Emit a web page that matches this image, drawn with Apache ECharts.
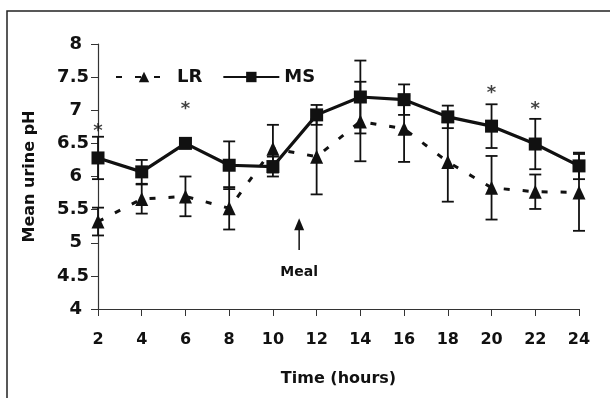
<!DOCTYPE html>
<html>
<head>
<meta charset="utf-8">
<script src="https://cdn.jsdelivr.net/npm/echarts@6/dist/echarts.min.js"></script>
<style>
  html, body { margin: 0; padding: 0; background: #fff; }
  #chart { width: 610px; height: 398px; }
</style>
</head>
<body>
<div id="chart"></div>
<script>
  // time points (hours)
  const hours = [2, 4, 6, 8, 10, 12, 14, 16, 18, 20, 22, 24];
  // MS group: mean urine pH and error
  const msMean = [6.28, 6.07, 6.5, 6.17, 6.15, 6.93, 7.2, 7.16, 6.9, 6.76, 6.49, 6.16];
  const msErr  = [0.32, 0.18, 0.06, 0.36, 0.15, 0.15, 0.55, 0.23, 0.17, 0.33, 0.38, 0.2];
  // LR group
  const lrMean = [5.32, 5.66, 5.7, 5.52, 6.42, 6.3, 6.83, 6.72, 6.22, 5.83, 5.77, 5.76];
  const lrErr  = [0.21, 0.22, 0.3, 0.32, 0.36, 0.57, 0.6, 0.5, 0.6, 0.48, 0.26, 0.58];
  // significance markers
  const sigHours = [2, 6, 20, 22];
  const sigY = [6.74, 7.07, 7.32, 7.08];
  // meal arrow (hour, bottom, tip)
  const mealHour = 11.2;
  const mealArrow = [4.89, 5.37];
  const mealLabelY = 4.55;
  const yTicks = [4, 4.5, 5, 5.5, 6, 6.5, 7, 7.5, 8];

  const font = 'DejaVu Sans, Arial, sans-serif';
  const ink = '#111';

  function errData(mean, err) {
    return hours.map((h, i) => [h, mean[i] - err[i], mean[i] + err[i]]);
  }

  function renderErr(params, api) {
    const x = api.value(0);
    const lo = api.coord([x, api.value(1)]);
    const hi = api.coord([x, api.value(2)]);
    const cap = 6;
    const st = { stroke: ink, lineWidth: 1.8 };
    return {
      type: 'group',
      children: [
        { type: 'line', shape: { x1: lo[0], y1: lo[1], x2: hi[0], y2: hi[1] }, style: st },
        { type: 'line', shape: { x1: lo[0] - cap, y1: lo[1], x2: lo[0] + cap, y2: lo[1] }, style: st },
        { type: 'line', shape: { x1: hi[0] - cap, y1: hi[1], x2: hi[0] + cap, y2: hi[1] }, style: st }
      ]
    };
  }

  let chart = echarts.init(document.getElementById('chart'));
  chart.setOption({
    animation: false,
    backgroundColor: '#fff',
    graphic: [{
      type: 'rect',
      shape: { x: 7, y: 11, width: 640, height: 420 },
      style: { fill: 'none', stroke: '#222', lineWidth: 1.5 },
      silent: true
    }],
    grid: { left: 98, right: 31, top: 44, bottom: 89 },
    legend: {
      left: 110,
      top: 63,
      itemWidth: 56,
      itemHeight: 13,
      itemGap: 20,
      data: ['LR', 'MS'],
      textStyle: { fontFamily: font, fontWeight: 'bold', fontSize: 18, color: ink }
    },
    xAxis: {
      type: 'value',
      min: 2,
      max: 24,
      interval: 2,
      name: 'Time (hours)',
      nameLocation: 'middle',
      nameGap: 62,
      nameTextStyle: { fontFamily: font, fontWeight: 'bold', fontSize: 16, color: ink },
      splitLine: { show: false },
      axisLine: { lineStyle: { color: '#333', width: 1.2 } },
      axisTick: { length: 7, lineStyle: { color: '#333' } },
      axisLabel: { margin: 23, fontFamily: font, fontWeight: 'bold', fontSize: 16, color: ink }
    },
    yAxis: {
      type: 'value',
      min: yTicks[0],
      max: yTicks[yTicks.length - 1],
      interval: 0.5,
      name: 'Mean urine pH',
      nameLocation: 'middle',
      nameGap: 60,
      nameTextStyle: { fontFamily: font, fontWeight: 'bold', fontSize: 16, color: ink },
      splitLine: { show: false },
      axisLine: { show: true, lineStyle: { color: '#333', width: 1.2 } },
      axisTick: { show: true, length: 7, lineStyle: { color: '#333' } },
      axisLabel: {
        margin: 9,
        formatter: v => (v % 1 === 0 ? '{i|' + v + '}' : '{d|' + v + '}'),
        rich: {
          i: { fontFamily: font, fontWeight: 'bold', fontSize: 18, color: ink, padding: [0, 7, 0, 0] },
          d: { fontFamily: font, fontWeight: 'bold', fontSize: 18, color: ink }
        }
      }
    },
    series: [
      {
        type: 'custom',
        name: 'lrErr',
        renderItem: renderErr,
        data: errData(lrMean, lrErr),
        z: 1
      },
      {
        type: 'custom',
        name: 'msErr',
        renderItem: renderErr,
        data: errData(msMean, msErr),
        z: 1
      },
      {
        name: 'LR',
        type: 'line',
        data: hours.map((h, i) => [h, lrMean[i]]),
        symbol: 'triangle',
        symbolSize: [13, 14],
        itemStyle: { color: ink },
        lineStyle: { color: ink, width: 3, type: [6, 13] },
        z: 3
      },
      {
        name: 'MS',
        type: 'line',
        data: hours.map((h, i) => [h, msMean[i]]),
        symbol: 'rect',
        symbolSize: 13,
        itemStyle: { color: ink },
        lineStyle: { color: ink, width: 3.2 },
        z: 4
      },
      {
        type: 'scatter',
        name: 'sig',
        data: sigHours.map((h, i) => [h, sigY[i]]),
        symbol: 'circle',
        symbolSize: 1,
        itemStyle: { color: 'rgba(0,0,0,0)' },
        label: {
          show: true,
          formatter: '*',
          position: 'inside',
          offset: [0, 4],
          fontFamily: font,
          fontWeight: 'bold',
          fontSize: 18,
          color: ink
        },
        silent: true
      },
      {
        type: 'custom',
        name: 'meal',
        data: [[mealHour, mealArrow[0], mealArrow[1], mealLabelY]],
        renderItem: function (params, api) {
          const x = api.value(0);
          const b = api.coord([x, api.value(1)]);
          const t = api.coord([x, api.value(2)]);
          const l = api.coord([x, api.value(3)]);
          return {
            type: 'group',
            children: [
              { type: 'line', shape: { x1: b[0], y1: b[1], x2: t[0], y2: t[1] + 8 }, style: { stroke: ink, lineWidth: 1.5 } },
              { type: 'polygon', shape: { points: [[t[0], t[1]], [t[0] - 5, t[1] + 12], [t[0] + 5, t[1] + 12]] }, style: { fill: ink } },
              { type: 'text', x: l[0], y: l[1], style: { text: 'Meal', fill: ink, font: 'bold 14px ' + font, align: 'center', verticalAlign: 'middle' } }
            ]
          };
        },
        z: 2
      }
    ]
  });
</script>
</body>
</html>
